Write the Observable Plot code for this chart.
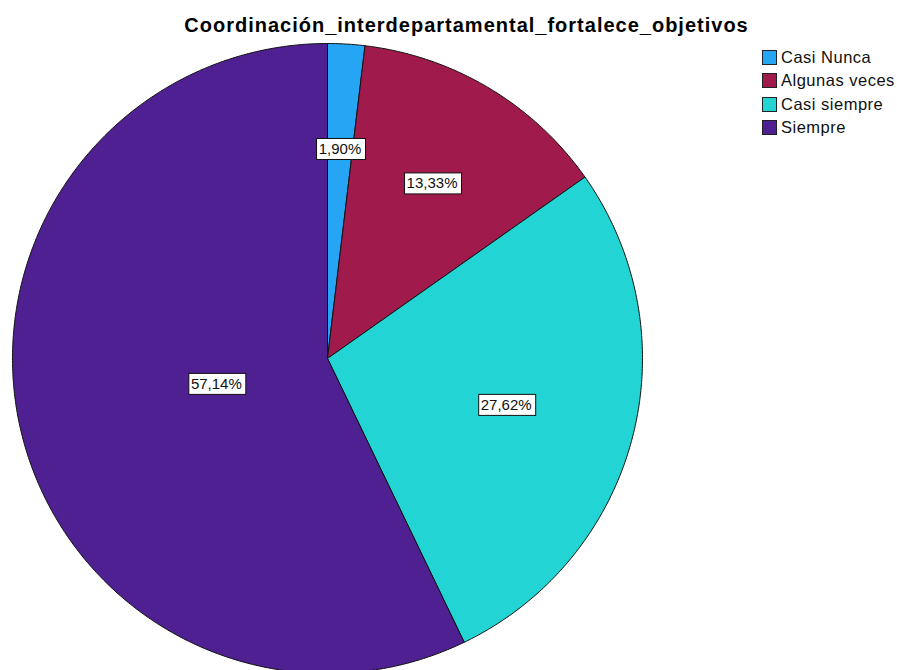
<!DOCTYPE html>
<html>
<head>
<meta charset="utf-8">
<script src="https://cdn.jsdelivr.net/npm/d3@7"></script>
<script src="https://cdn.jsdelivr.net/npm/@observablehq/plot@0.6"></script>
<style>
  html, body { margin: 0; padding: 0; background: #fff; overflow: hidden; }
  #wrap { position: relative; width: 897px; height: 670px; font-family: "Liberation Sans", Arial, sans-serif; }
  #title { position: absolute; left: 0; width: 933px; top: 13px; text-align: center; font-weight: bold; font-size: 20px; letter-spacing: 1px; color: #000; white-space: nowrap; line-height: 24px; }
  #legend { position: absolute; left: 762px; top: 46px; font-size: 16.5px; letter-spacing: 0.5px; color: #111; }
  .lg-row { height: 23.3px; display: flex; align-items: center; }
  .sw { width: 13px; height: 13px; border: 1px solid #222; margin-right: 4px; box-sizing: content-box; }
  #chart { position: absolute; left: 0; top: 0; }
</style>
</head>
<body>
<div id="wrap">
  <div id="chart"></div>
  <div id="title">Coordinación_interdepartamental_fortalece_objetivos</div>
  <div id="legend"></div>
</div>
<script>
const categories = ["Casi Nunca", "Algunas veces", "Casi siempre", "Siempre"];
const percents = [1.90, 13.33, 27.62, 57.14];
const labels = ["1,90%", "13,33%", "27,62%", "57,14%"];
const colors = ["#27a5f5", "#a01a4c", "#22d4d3", "#4e2092"];

// build slice polygons from the data
const arcs = d3.pie().sort(null).value(d => d)(percents);
const pts = [];
const cents = [];
arcs.forEach((a, i) => {
  const cat = categories[i];
  pts.push({cat, x: 0, y: 0});
  const n = Math.max(4, Math.ceil((a.endAngle - a.startAngle) / (Math.PI / 360)));
  for (let k = 0; k <= n; k++) {
    const t = a.startAngle + (a.endAngle - a.startAngle) * k / n;
    pts.push({cat, x: Math.sin(t), y: Math.cos(t)});
  }
  pts.push({cat, x: 0, y: 0});
  const half = (a.endAngle - a.startAngle) / 2;
  const mid = a.startAngle + half;
  const d = (2 / 3) * Math.sin(half) / half;
  cents.push({cat, label: labels[i], x: d * Math.sin(mid), y: d * Math.cos(mid)});
});

const plot = Plot.plot({
  width: 897,
  height: 670,
  margin: 0,
  x: {domain: [-1, 1], range: [12, 642], axis: null},
  y: {domain: [-1, 1], range: [673, 43], axis: null},
  color: {domain: categories, range: colors},
  style: {background: "transparent", overflow: "hidden"},
  marks: [
    Plot.line(pts, {x: "x", y: "y", z: "cat", fill: "cat", stroke: "#111", strokeWidth: 1, curve: "linear", strokeLinejoin: "round"}),
    Plot.text(cents, {x: "x", y: "y", text: "label", fill: "#111", fontSize: 15, fontFamily: "Liberation Sans, Arial, sans-serif", className: "pielabel"})
  ]
});
document.getElementById("chart").appendChild(plot);

// white boxes behind labels
plot.querySelectorAll(".pielabel text").forEach(t => {
  const b = t.getBBox();
  const r = document.createElementNS("http://www.w3.org/2000/svg", "rect");
  r.setAttribute("x", Math.round(b.x - 3) + 0.5);
  r.setAttribute("y", Math.round(b.y - 2) + 0.5);
  r.setAttribute("width", Math.round(b.width + 6));
  r.setAttribute("height", Math.round(b.height + 4));
  r.setAttribute("fill", "#fff");
  r.setAttribute("stroke", "#111");
  r.setAttribute("stroke-width", "1");
  const tr = t.getAttribute("transform");
  if (tr) r.setAttribute("transform", tr);
  t.parentNode.insertBefore(r, t);
});

const lg = document.getElementById("legend");
categories.forEach((c, i) => {
  const row = document.createElement("div");
  row.className = "lg-row";
  row.innerHTML = `<span class="sw" style="background:${colors[i]}"></span><span>${c}</span>`;
  lg.appendChild(row);
});
</script>
</body>
</html>
